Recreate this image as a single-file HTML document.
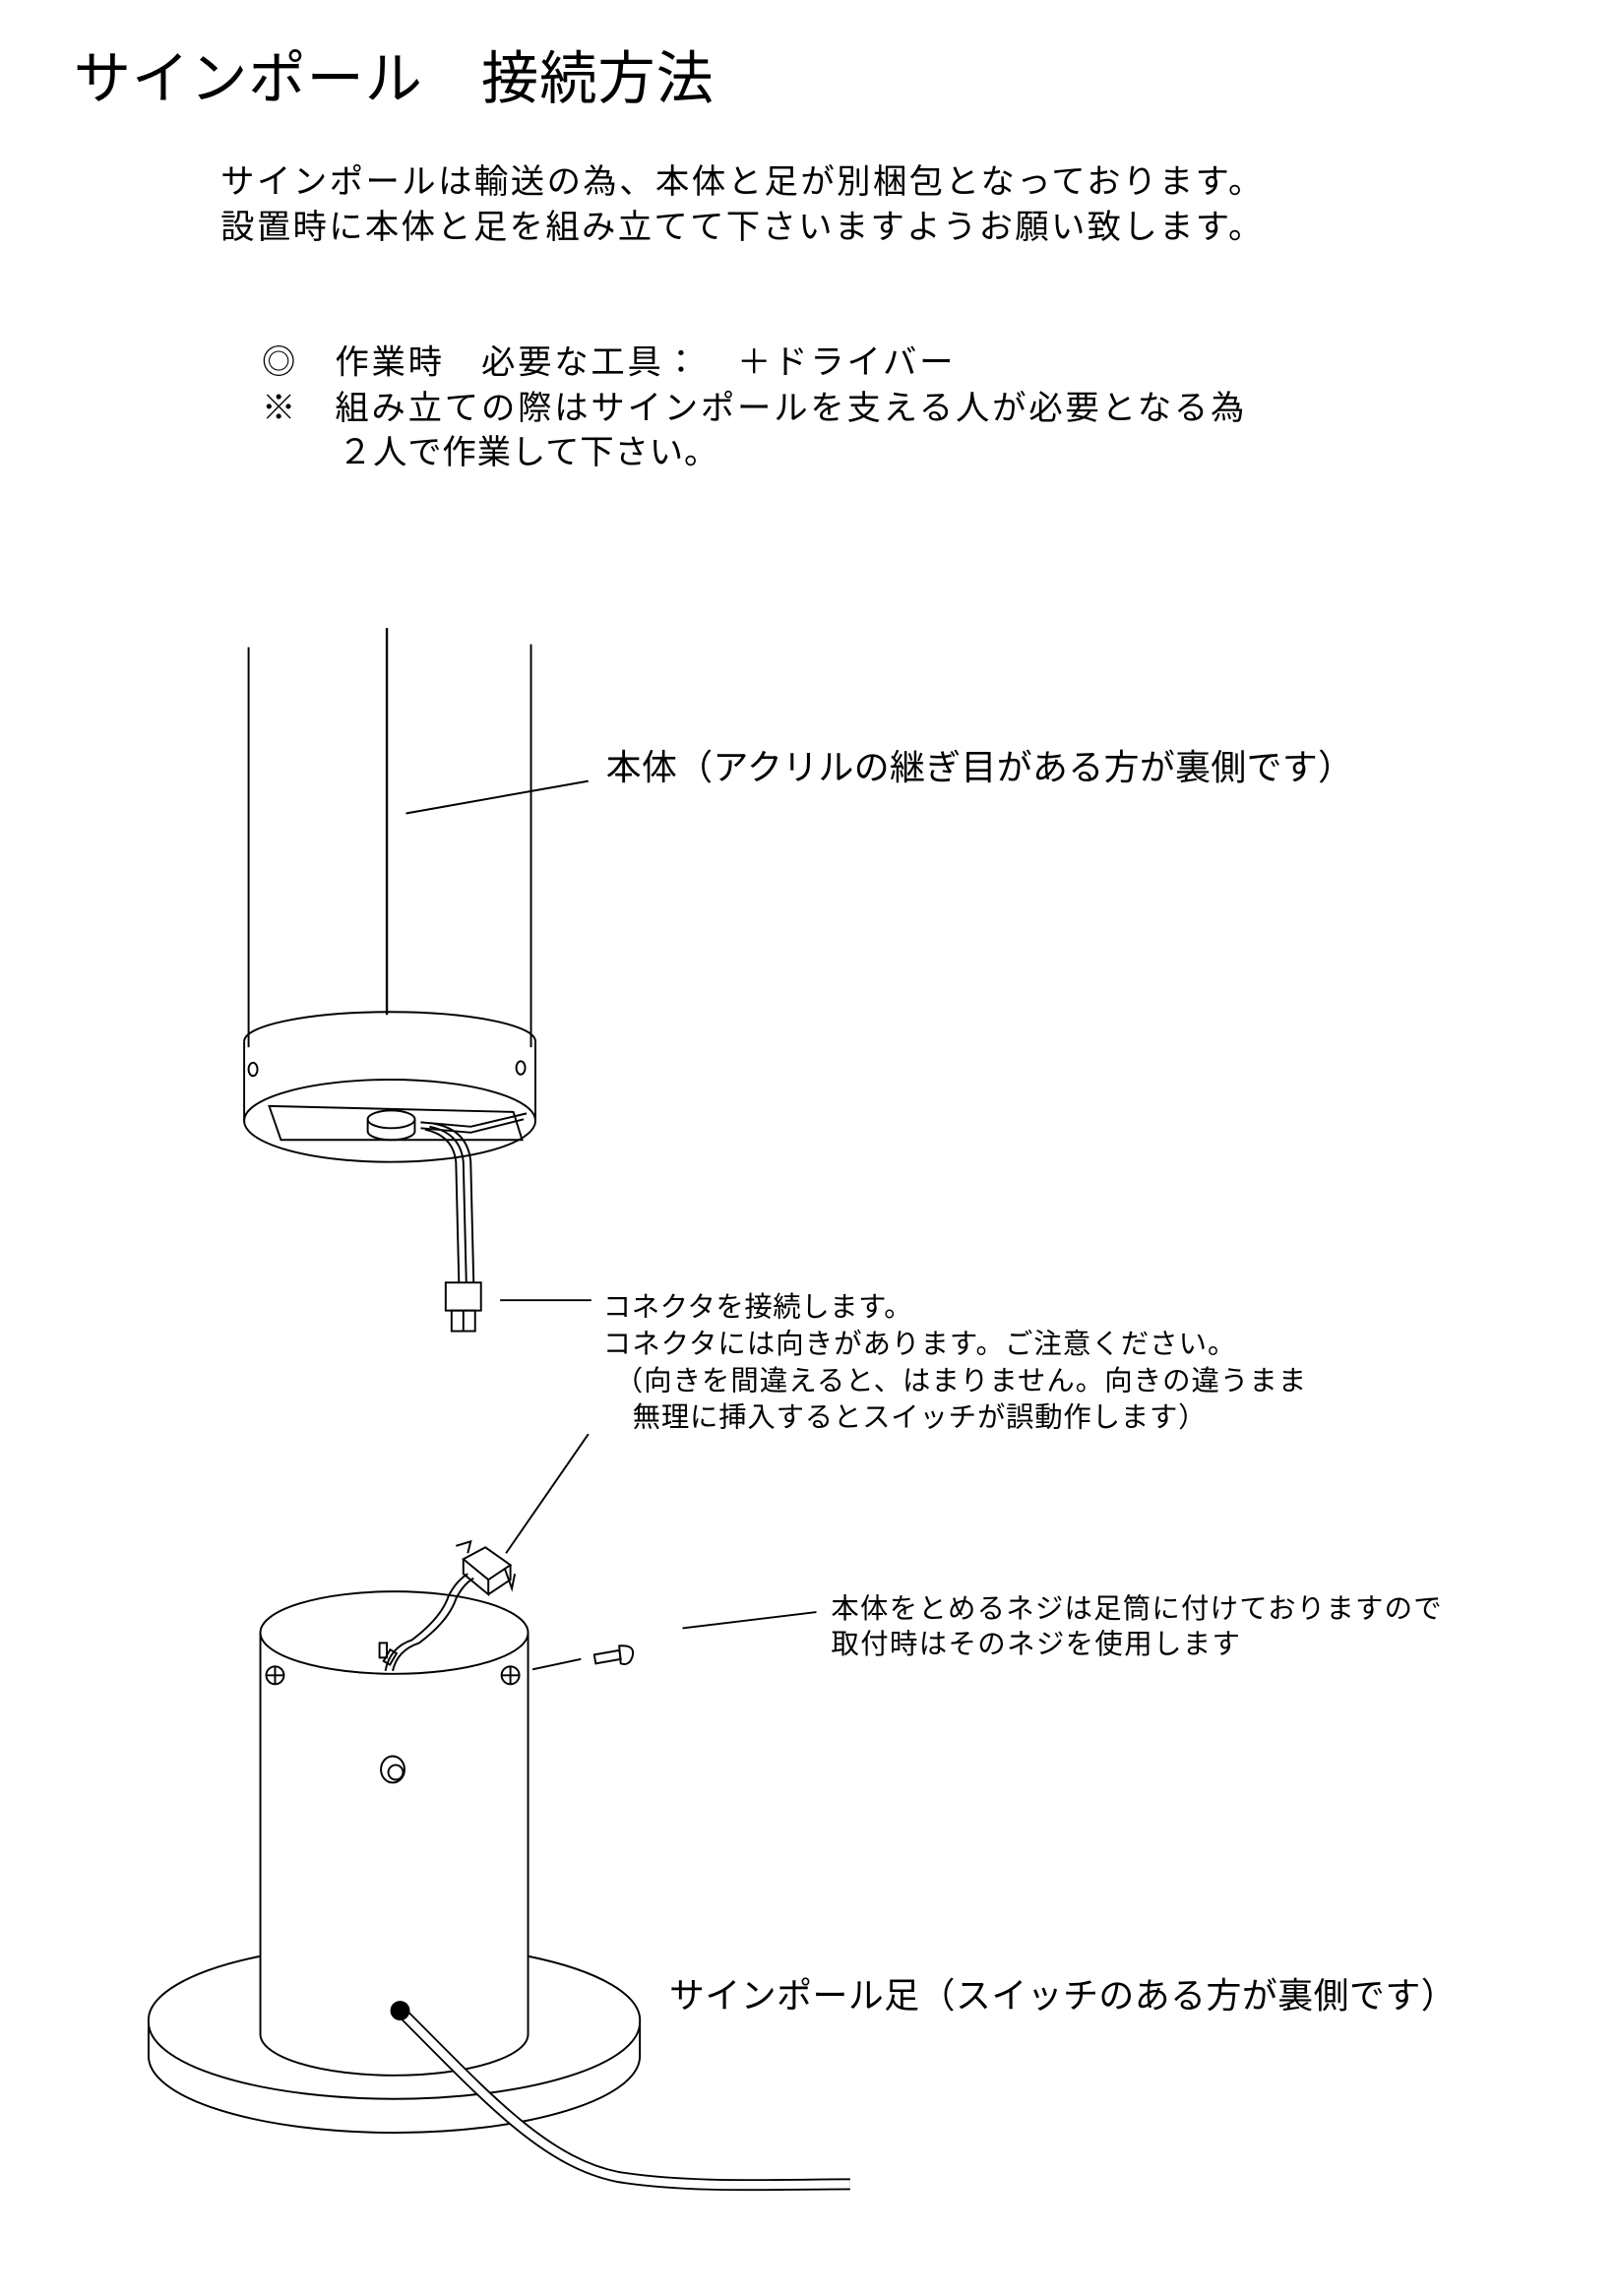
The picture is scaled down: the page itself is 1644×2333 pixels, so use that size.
<!DOCTYPE html>
<html><head><meta charset="utf-8"><style>
html,body{margin:0;padding:0;background:#fff}
svg{display:block}
text{font-family:"Liberation Sans","Noto Sans CJK JP",sans-serif;fill:#000}
</style></head><body>
<svg width="1644" height="2333" viewBox="0 0 1100 1561" xmlns="http://www.w3.org/2000/svg">
<g>
<text x="50" y="67" font-size="39" textLength="435">サインポール　接続方法</text>
<text x="150" y="131" font-size="23" textLength="708">サインポールは輸送の為、本体と足が別梱包となっております。</text>
<text x="150" y="162" font-size="23" textLength="708">設置時に本体と足を組み立てて下さいますようお願い致します。</text>
<text x="178" y="254" font-size="23" textLength="470">◎　作業時　必要な工具：　＋ドライバー</text>
<text x="178" y="285" font-size="23" textLength="668">※　組み立ての際はサインポールを支える人が必要となる為</text>
<text x="230" y="315" font-size="23" textLength="258">２人で作業して下さい。</text>
<text x="412" y="530" font-size="24" textLength="508">本体（アクリルの継ぎ目がある方が裏側です）</text>
<text x="410" y="895" font-size="19" textLength="210">コネクタを接続します。</text>
<text x="410" y="920" font-size="19" textLength="430">コネクタには向きがあります。ご注意ください。</text>
<text x="418" y="945" font-size="19" textLength="470">（向きを間違えると、はまりません。向きの違うまま</text>
<text x="430" y="970" font-size="19" textLength="390">無理に挿入するとスイッチが誤動作します）</text>
<text x="565" y="1100" font-size="19" textLength="415">本体をとめるネジは足筒に付けておりますので</text>
<text x="565" y="1124" font-size="19" textLength="278">取付時はそのネジを使用します</text>
<text x="455" y="1365" font-size="24" textLength="535">サインポール足（スイッチのある方が裏側です）</text>
</g>
<g fill="none" stroke="#000" stroke-width="1.3">
<line x1="169" y1="440" x2="169" y2="712"/>
<line x1="263" y1="427" x2="263" y2="690" stroke-width="1.6"/>
<line x1="361" y1="438" x2="361" y2="712"/>
<line x1="276" y1="553" x2="400" y2="531"/>
<path d="M166 708 A99 20 0 0 1 364 708"/>
<line x1="166" y1="708" x2="166" y2="762"/>
<line x1="364" y1="708" x2="364" y2="762"/>
<ellipse cx="265" cy="762" rx="99" ry="28"/>
<ellipse cx="172" cy="727" rx="3" ry="4.5"/>
<ellipse cx="354" cy="726" rx="3" ry="4.5"/>
<polygon points="183,752 349,756 355,775 191,775"/>
<path d="M250 761 v8 a16 6 0 0 0 32 0 v-8" fill="#fff"/>
<ellipse cx="266" cy="761" rx="16" ry="6" fill="#fff"/>
<path d="M286 763 L320 766 L358 757 M286 767 L320 770 L356 761"/>
<path d="M289 768 Q308 772 310 790 L312 872 M292 766 Q313 770 315 790 L317 872 M295 764 Q318 768 320 790 L322 872"/>
<rect x="303" y="872" width="24" height="19" fill="#fff"/>
<rect x="307" y="891" width="16" height="14"/>
<line x1="315" y1="891" x2="315" y2="905"/>
<line x1="340" y1="884" x2="402" y2="884"/>
<line x1="344" y1="1056" x2="400" y2="975"/>
<path d="M101 1375 v23 a167 52 0 0 0 334 0 v-23"/>
<path d="M177 1330 A167 52 0 0 0 101 1375 A167 52 0 0 0 435 1375 A167 52 0 0 0 359 1330"/>
<rect x="177" y="1110" width="182" height="275" fill="#fff" stroke="none"/>
<ellipse cx="268" cy="1110" rx="91" ry="28" fill="#fff"/>
<path d="M177 1110 V1383 A91 28 0 0 0 359 1383 V1110"/>
<circle cx="187" cy="1139" r="6"/><path d="M181 1139h12M187 1133v12"/>
<circle cx="347" cy="1139" r="6"/><path d="M341 1139h12M347 1133v12"/>
<ellipse cx="267" cy="1203" rx="8" ry="9"/><circle cx="269" cy="1205" r="5"/>
<path d="M273 1368 C330 1425 370 1470 420 1480 C470 1488 530 1485 578 1485" stroke-width="8"/>
<path d="M273 1368 C330 1425 370 1470 420 1480 C470 1488 530 1485 578 1485" stroke="#fff" stroke-width="5.5"/>
<circle cx="272" cy="1367" r="6" fill="#000"/>
<path d="M262 1136 Q265 1120 280 1115 Q300 1100 305 1085 Q310 1075 318 1070 M267 1136 Q270 1122 285 1117 Q305 1102 310 1087 Q315 1077 322 1073"/>
<rect x="258" y="1117" width="5" height="10"/><rect x="263" y="1122" width="5" height="9" transform="rotate(30 265 1126)"/>
<path d="M315 1060 L330 1052 L347 1064 L332 1074 Z" fill="#fff"/>
<path d="M315 1060 V1070 L332 1084 V1074 M332 1084 L347 1074 V1064"/>
<path d="M310 1051 L320 1048 L318 1056 M343 1066 L348 1080 L350 1070"/>
<path d="M404 1125 L421 1122 L422 1128 L405 1131 Z"/>
<path d="M421 1119 Q432 1118 430 1126 Q428 1133 422 1131 Z"/>
<line x1="362" y1="1135" x2="395" y2="1128"/>
<line x1="464" y1="1107" x2="555" y2="1096"/>
</g>
</svg>
</body></html>
